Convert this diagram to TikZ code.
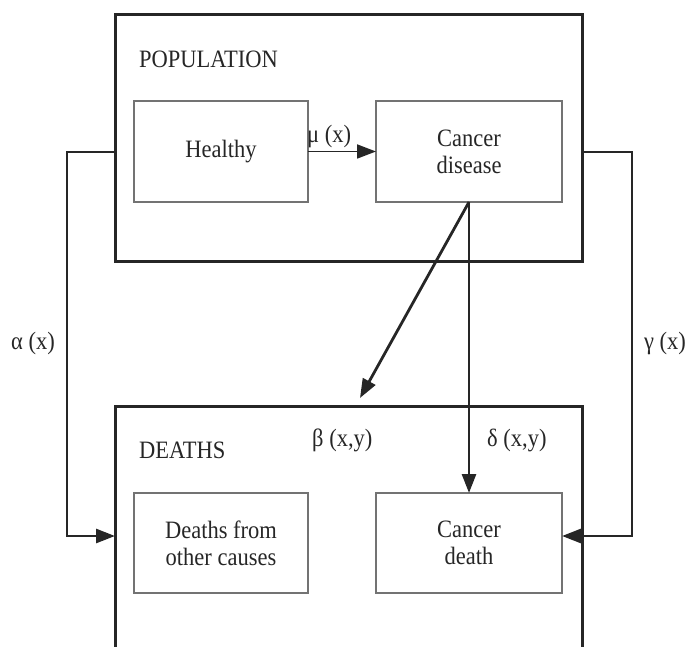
\documentclass[tikz,border=0pt]{standalone}
\usepackage{fontspec}
\setmainfont{Liberation Serif}[FakeStretch=0.9]
\usepackage{tikz}
\usetikzlibrary{arrows.meta,positioning}
\tikzset{
  group/.style={rectangle, draw=black!85, line width=3pt, minimum width=467pt, inner sep=0pt, outer sep=0pt},
  state/.style={rectangle, draw=black!55, line width=1.8pt, minimum height=101pt, align=center, inner sep=0pt, outer sep=0pt, text=black!85},
  title/.style={anchor=west, inner sep=0pt, text=black!85},
  rate/.style={anchor=west, inner sep=0pt, text=black!85},
  arrow/.style={-{Triangle[length=19pt, width=14pt]}, line width=2.8pt, draw=black!85}
}

\begin{document}
\begin{tikzpicture}[x=1pt, y=-1pt, every node/.style={font=\fontsize{25}{27}\selectfont}]
  \useasboundingbox (0,0) rectangle (685,647);
  \clip (0,0) rectangle (685,647);
  % compartments
  \node[group, minimum height=246pt] (pop) at (348.5,138) {};
  \node[group, minimum height=300pt, anchor=north] (deaths) at (348.5,406) {};
  \node[title] (poplbl) at (139,59) {POPULATION};
  \node[title] (deathlbl) at (139,450) {DEATHS};
  \node[state, minimum width=174pt] (healthy) at (221,151.5) {Healthy};
  \node[state, minimum width=186pt, right=68pt of healthy] (disease) {Cancer\\disease};
  \node[state, minimum width=174pt, minimum height=100pt] (other) at (221,543) {Deaths from\\other causes};
  \node[state, minimum width=186pt, minimum height=100pt, right=68pt of other] (cdeath) {Cancer\\death};
  % rates
  \node[rate] (mu) at (307,137) {μ (x)};
  \node[rate] (alpha) at (11,343) {α (x)};
  \node[rate, anchor=east] (gamma) at (686,343) {γ (x)};
  \node[rate] (beta) at (312,440) {β (x,y)};
  \node[rate] (delta) at (487,440) {δ (x,y)};
  % transitions
  \coordinate (la) at (67,152);
  \coordinate (lb) at (67,536);
  \coordinate (ra) at (632,152);
  \coordinate (rb) at (632,536);
  \coordinate (bt) at (360,398);
  \draw[arrow, line width=1.8pt] (healthy) -- (disease);
  \draw[arrow] (pop.west |- la) -- (la) -- (lb) -- (deaths.west |- lb);
  \draw[arrow] (pop.east |- ra) -- (ra) -- (rb) -- (cdeath.east |- rb);
  \draw[arrow] (disease.south) -- (bt);
  \draw[arrow] (disease.south) -- (cdeath.north);
\end{tikzpicture}
\end{document}
